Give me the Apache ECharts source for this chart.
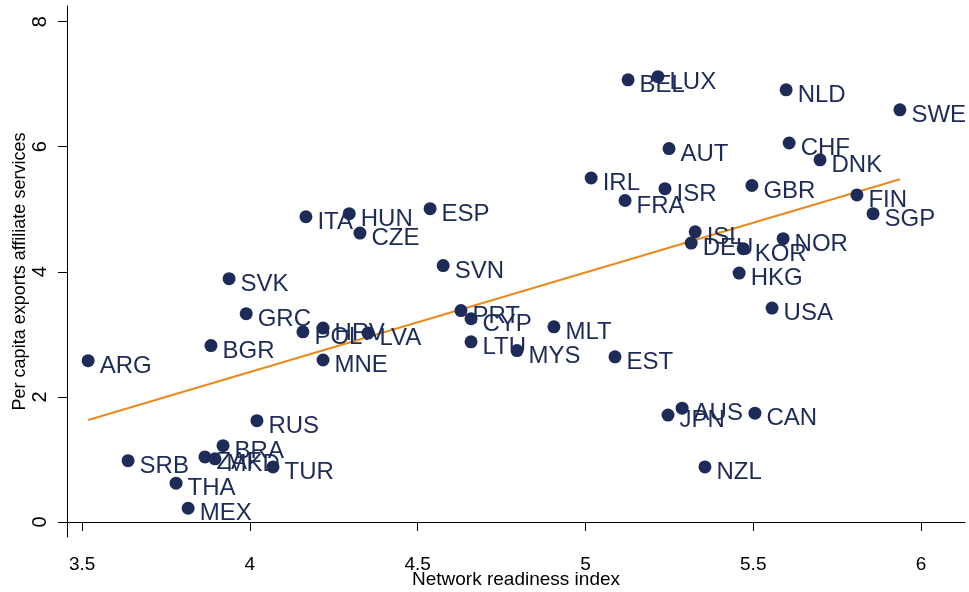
<!DOCTYPE html>
<html><head><meta charset="utf-8">
<script src="https://cdn.jsdelivr.net/npm/echarts@6/dist/echarts.min.js"></script>
<style>html,body{margin:0;padding:0;background:#fff}#c{width:969px;height:592px}</style>
</head><body><div id="c"></div>
<script>
const countries = ["ARG","SRB","THA","MEX","BGR","ZAF","MKD","BRA","RUS","TUR","SVK","GRC","POL","HRV","LVA","MNE","ITA","HUN","CZE","ESP","SVN","PRT","CYP","LTU","MYS","MLT","EST","IRL","FRA","ISR","AUT","BEL","LUX","NLD","SWE","CHF","DNK","GBR","FIN","SGP","ISL","DEU","KOR","NOR","HKG","USA","JPN","AUS","CAN","NZL"];
const nri = [3.518,3.637,3.780,3.816,3.884,3.866,3.896,3.920,4.021,4.069,3.938,3.989,4.158,4.218,4.352,4.218,4.167,4.296,4.328,4.537,4.576,4.629,4.659,4.659,4.796,4.906,5.088,5.017,5.118,5.237,5.249,5.127,5.216,5.598,5.937,5.607,5.699,5.496,5.809,5.857,5.327,5.315,5.470,5.589,5.458,5.556,5.246,5.288,5.505,5.356];
const exportsPc = [2.58,0.98,0.62,0.22,2.82,1.04,1.01,1.22,1.62,0.88,3.89,3.33,3.04,3.10,3.02,2.59,4.88,4.93,4.62,5.01,4.10,3.38,3.25,2.88,2.74,3.12,2.64,5.50,5.14,5.33,5.97,7.07,7.12,6.91,6.59,6.06,5.79,5.38,5.23,4.93,4.64,4.46,4.37,4.53,3.98,3.42,1.71,1.82,1.74,0.88];
const fitX = [3.518, 5.937];
const fitY = [1.63, 5.48];
const xTicks = [3.5, 4, 4.5, 5, 5.5, 6];
const yTicks = [0, 2, 4, 6, 8];

const navy = '#1c2b57';
const font = '"Liberation Sans", Arial, sans-serif';
const chart = echarts.init(document.getElementById('c'));
chart.setOption({
  animation: false,
  backgroundColor: '#fff',
  grid: {left: 67, right: 4, top: 6, bottom: 55, containLabel: false, outerBoundsMode: 'none'},
  xAxis: {
    type: 'value', min: 3.455, max: 6.131,
    name: 'Network readiness index', nameLocation: 'middle', nameGap: 33, nameMoveOverlap: false,
    nameTextStyle: {fontFamily: font, fontSize: 19, color: '#000'},
    axisLine: {show: true, lineStyle: {color: '#000', width: 1}},
    axisTick: {show: true, length: 9, customValues: xTicks, lineStyle: {color: '#000'}},
    axisLabel: {customValues: xTicks, formatter: v => String(v), fontFamily: font, fontSize: 19, color: '#000', margin: 18},
    splitLine: {show: false}
  },
  yAxis: {
    type: 'value', min: -0.24, max: 8.25,
    name: 'Per capita exports affiliate services', nameLocation: 'middle', nameGap: 38, nameMoveOverlap: false,
    nameTextStyle: {fontFamily: font, fontSize: 18, color: '#000'},
    axisLine: {show: true, lineStyle: {color: '#000', width: 1}},
    axisTick: {show: true, length: 9, customValues: yTicks, lineStyle: {color: '#000'}},
    axisLabel: {customValues: yTicks, rotate: 90, fontFamily: font, fontSize: 20, color: '#000', margin: 17},
    splitLine: {show: false}
  },
  series: [
    {
      type: 'scatter', symbolSize: 13,
      itemStyle: {color: navy, opacity: 1},
      data: countries.map((c, i) => [nri[i], exportsPc[i], c]),
      label: {show: true, position: [18, 12], align: 'left', verticalAlign: 'middle', formatter: p => p.data[2],
        color: navy, fontFamily: font, fontSize: 24},
      z: 3
    },
    {
      type: 'line', data: fitX.map((x, i) => [x, fitY[i]]), symbol: 'none',
      lineStyle: {color: '#ea8a1c', width: 2}, z: 2, silent: true
    }
  ]
});
</script></body></html>
